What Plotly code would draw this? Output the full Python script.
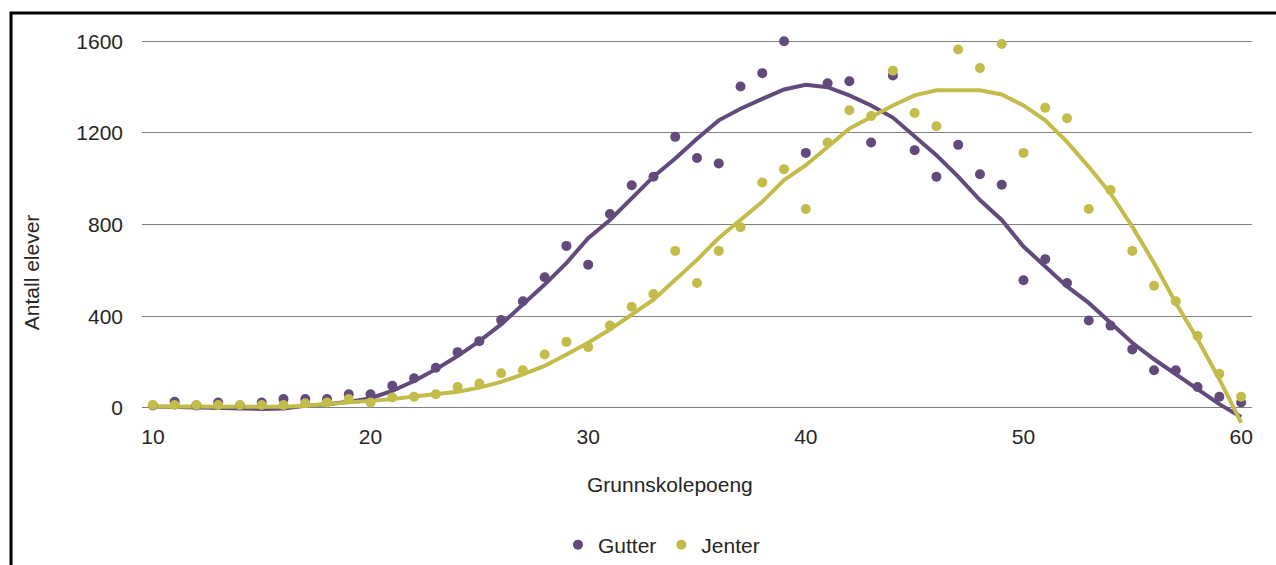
import plotly.graph_objects as go

poeng = list(range(10, 61))

gutter = [10, 26, 10, 23, 10, 23, 38, 38, 38, 59, 59, 96, 129, 175, 243, 291, 383, 465, 570, 707,
          625, 846, 972, 1009, 1183, 1091, 1067, 1403, 1461, 1600, 1113, 1417, 1426, 1158, 1451, 1125,
          1009, 1148, 1020, 974, 557, 649, 545, 381, 359, 255, 164, 164, 91, 48, 23]

jenter = [12, 12, 12, 12, 12, 12, 12, 20, 23, 38, 23, 45, 48, 59, 91, 106, 151, 164, 233, 288,
          265, 359, 441, 497, 685, 545, 685, 788, 984, 1042, 868, 1158, 1299, 1274, 1472, 1287,
          1229, 1564, 1483, 1588, 1113, 1310, 1264, 868, 951, 685, 533, 465, 313, 149, 48]

gutter_trend = [6, 3, 0, -3, -6, -5, -3, 9, 16, 26, 42, 74, 117, 168, 226, 291, 364, 451, 538, 632,
                741, 820, 915, 1009, 1088, 1175, 1255, 1306, 1349, 1390, 1410, 1400, 1364, 1320, 1267, 1183,
                1103, 1009, 907, 820, 704, 617, 530, 458, 371, 284, 212, 146, 81, 16, -40]

jenter_trend = [6, 6, 4, 5, 5, 5, 5, 9, 16, 23, 30, 38, 49, 59, 70, 88, 113, 146, 183, 233,
                284, 342, 407, 472, 559, 646, 741, 820, 900, 994, 1059, 1139, 1219, 1270, 1320, 1364,
                1386, 1386, 1386, 1368, 1320, 1255, 1161, 1052, 936, 791, 632, 458, 299, 125, -65]

y_ticks = [0, 400, 800, 1200, 1600]
x_ticks = [10, 20, 30, 40, 50, 60]

PURPLE = "#634a7c"
YELLOW = "#c3bc4a"
TEXT = "#262626"
FONT = "Liberation Sans, Arial, sans-serif"

fig = go.Figure()
fig.add_trace(go.Scatter(x=poeng, y=gutter_trend, mode="lines", line=dict(color=PURPLE, width=4),
                         showlegend=False, hoverinfo="skip"))
fig.add_trace(go.Scatter(x=poeng, y=jenter_trend, mode="lines", line=dict(color=YELLOW, width=4),
                         showlegend=False, hoverinfo="skip"))
fig.add_trace(go.Scatter(x=poeng, y=gutter, mode="markers", name="Gutter",
                         marker=dict(color=PURPLE, size=10)))
fig.add_trace(go.Scatter(x=poeng, y=jenter, mode="markers", name="Jenter",
                         marker=dict(color=YELLOW, size=10)))

fig.update_layout(
    width=1296, height=565,
    margin=dict(l=142, r=44, t=23, b=140, autoexpand=False),
    plot_bgcolor="white", paper_bgcolor="white",
    font=dict(family=FONT, size=21, color=TEXT),
    xaxis=dict(range=[9.5, 60.5], tickvals=x_ticks, showgrid=False, zeroline=False,
               showline=False, ticks="", ticklabelstandoff=-3, tickfont=dict(size=21, color=TEXT)),
    yaxis=dict(range=[-75, 1680], tickvals=y_ticks, showgrid=True, gridcolor="#7f7f7f",
               gridwidth=1, zeroline=False, showline=False, ticks="",
               ticklabelstandoff=18, tickfont=dict(size=21, color=TEXT)),
    legend=dict(orientation="h", x=0.468, xanchor="center", y=-0.2985,
                yanchor="middle", font=dict(size=21, color=TEXT), itemwidth=30, tracegroupgap=0),
    showlegend=True,
    annotations=[
        dict(text="Grunnskolepoeng", xref="paper", yref="paper", x=0.476, y=-0.149,
             xanchor="center", yanchor="middle", showarrow=False, font=dict(size=21, color=TEXT)),
        dict(text="Antall elever", xref="paper", yref="paper", x=-0.1, y=0.38,
             xanchor="center", yanchor="middle", textangle=-90, showarrow=False,
             font=dict(size=21, color=TEXT)),
    ],
    shapes=[
        dict(type="path", xref="paper", yref="paper",
             path="M -0.118,-0.4 L -0.118,1.0249 L 1.1,1.0249",
             line=dict(color="black", width=3)),
    ],
)

fig.write_html("out.html", config={"displayModeBar": False},
               post_script="document.body.style.margin='0';"
                           "document.body.style.overflow='hidden';"
                           "document.documentElement.style.overflow='hidden';")
